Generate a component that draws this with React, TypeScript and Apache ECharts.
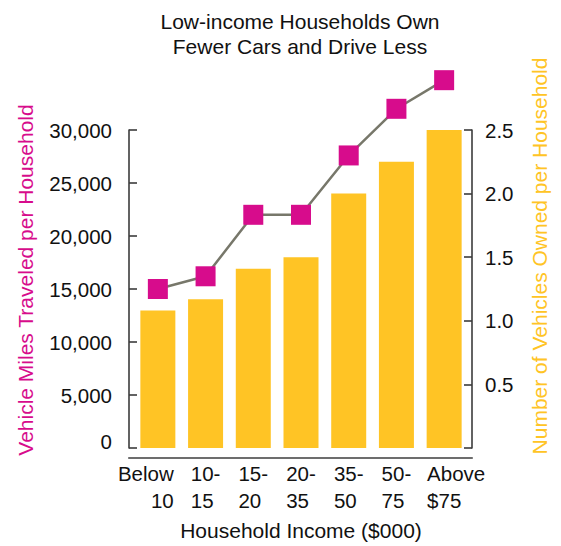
import React, { useEffect, useRef } from "react";
import * as echarts from "echarts";

const categories = ["Below\n10", "10-\n15", "15-\n20", "20-\n35", "35-\n50", "50-\n75", "Above\n$75"];
const vehiclesOwned = [1.08, 1.17, 1.41, 1.5, 2.0, 2.25, 2.5];
const milesTraveled = [15000, 16200, 22000, 22000, 27600, 32000, 34700];

const titleText = "Low-income Households Own\nFewer Cars and Drive Less";
const leftAxisTitle = "Vehicle Miles Traveled per Household";
const rightAxisTitle = "Number of Vehicles Owned per Household";
const xAxisTitle = "Household Income ($000)";

const FONT = "'Liberation Sans', Arial, Helvetica, sans-serif";
const MAGENTA = "#D70C8C";
const YELLOW = "#FFC425";
const AXIS = "#3c3c3c";

export default function App() {
  const ref = useRef<HTMLDivElement>(null);

  useEffect(() => {
    if (!ref.current) return;
    const chart = echarts.init(ref.current, null, { renderer: "svg" });
    const last = categories.length - 1;
    const option: any = {
      animation: false,
      grid: { left: 134, right: 93, top: 130, bottom: 88, containLabel: false },
      xAxis: {
        type: "category",
        data: categories,
        axisLine: { show: false },
        axisTick: { show: false },
        axisLabel: {
          interval: 0,
          hideOverlap: false,
          margin: 12,
          formatter: (v: string, i: number) => {
            const s = i === 0 ? "f" : i === last ? "l" : "m";
            return v
              .split("\n")
              .map((p) => `{${s}|${p}}`)
              .join("\n");
          },
          rich: {
            m: { fontFamily: FONT, fontSize: 20.5, color: "#111", lineHeight: 27, align: "left" },
            f: { fontFamily: FONT, fontSize: 20.5, color: "#111", lineHeight: 27, align: "right", padding: [0, 24, 0, 0] },
            l: { fontFamily: FONT, fontSize: 20.5, color: "#111", lineHeight: 27, align: "left", padding: [0, 0, 0, 24] },
          },
        },
        name: xAxisTitle,
        nameLocation: "middle",
        nameGap: 72,
        nameTextStyle: { fontFamily: FONT, fontSize: 21, color: "#111" },
      },
      yAxis: [
        {
          type: "value",
          position: "left",
          min: 0,
          max: 30000,
          interval: 5000,
          offset: 5,
          splitLine: { show: false },
          axisLine: { show: true, lineStyle: { color: AXIS, width: 1.6 } },
          axisTick: { show: true, inside: true, length: 8, lineStyle: { color: AXIS, width: 1.6 } },
          axisLabel: {
            margin: 17,
            fontFamily: FONT,
            fontSize: 20.5,
            color: "#111",
            formatter: (v: number) => (v === 0 ? "{z|0}" : v.toLocaleString("en-US")),
            rich: {
              z: { fontFamily: FONT, fontSize: 20.5, color: "#111", padding: [0, 0, 14, 0] },
            },
          },
        },
        {
          type: "value",
          position: "right",
          min: 0,
          max: 2.5,
          interval: 0.5,
          offset: 4,
          splitLine: { show: false },
          axisLine: { show: true, lineStyle: { color: AXIS, width: 1.6 } },
          axisTick: { show: true, inside: true, length: 8, lineStyle: { color: AXIS, width: 1.6 } },
          axisLabel: {
            margin: 13,
            fontFamily: FONT,
            fontSize: 20.5,
            color: "#111",
            formatter: (v: number) => (v === 0 ? "" : v.toFixed(1)),
          },
        },
      ],
      series: [
        {
          type: "bar",
          name: "Vehicles owned",
          yAxisIndex: 1,
          data: vehiclesOwned,
          barWidth: 35,
          itemStyle: { color: YELLOW },
          z: 2,
        },
        {
          type: "line",
          name: "Vehicle miles traveled",
          yAxisIndex: 0,
          data: milesTraveled,
          clip: false,
          symbol: "rect",
          symbolSize: 20,
          lineStyle: { color: "#77776a", width: 2.5 },
          itemStyle: { color: MAGENTA },
          z: 5,
        },
      ],
      graphic: [
        {
          type: "line",
          silent: true,
          shape: { x1: 128.2, y1: 458, x2: 472.8, y2: 458 },
          style: { stroke: AXIS, lineWidth: 1.6 },
          z: 10,
        },
        {
          type: "text",
          x: 300,
          y: 9,
          style: {
            text: titleText,
            fontFamily: FONT,
            fontSize: 21,
            lineHeight: 25,
            fill: "#111",
            align: "center",
            verticalAlign: "top",
            textAlign: "center",
            textVerticalAlign: "top",
          },
        },
        {
          type: "text",
          x: 25,
          y: 280,
          rotation: Math.PI / 2,
          style: {
            text: leftAxisTitle,
            fontFamily: FONT,
            fontSize: 21,
            fill: MAGENTA,
            align: "center",
            verticalAlign: "middle",
            textAlign: "center",
            textVerticalAlign: "middle",
          },
        },
        {
          type: "text",
          x: 539,
          y: 256,
          rotation: Math.PI / 2,
          style: {
            text: rightAxisTitle,
            fontFamily: FONT,
            fontSize: 21,
            fill: YELLOW,
            align: "center",
            verticalAlign: "middle",
            textAlign: "center",
            textVerticalAlign: "middle",
          },
        },
      ],
    };
    chart.setOption(option);
    return () => chart.dispose();
  }, []);

  return <div ref={ref} style={{ width: 561, height: 546, position: "absolute", left: 0, top: 0 }} />;
}
